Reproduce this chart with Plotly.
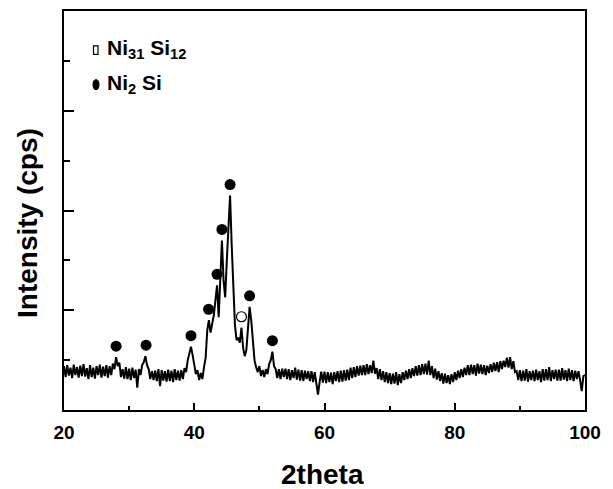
import numpy as np
import plotly.graph_objects as go

# XRD scan, 0.25 deg step from 20 to 100 deg (2theta), intensity in cps
intensity = [
    880, 660, 900, 690, 850, 640, 910, 700,      # 20
    860, 650, 890, 680, 920, 670, 840, 620,      # 22
    900, 660, 850, 630, 880, 700, 910, 650,      # 24
    870, 680, 900, 650, 880, 700, 930, 820,      # 26
    1060, 880, 950, 660, 820, 630, 860, 620,     # 28
    830, 600, 850, 640, 810, 450, 820, 700,      # 30
    900, 960, 1080, 900, 820, 620, 780, 600,     # 32
    790, 580, 820, 480, 800, 590, 780, 570,      # 34
    810, 580, 790, 560, 820, 600, 790, 590,      # 36
    800, 620, 840, 760, 1000, 1120, 1270, 1100,  # 38
    930, 720, 800, 600, 740, 620, 860, 1050,     # 40
    1600, 1800, 1550, 1700, 1900, 2200, 2500, 1860,  # 42
    2600, 3400, 2600, 2260, 3000, 3700, 4300, 3300,  # 44
    2400, 1700, 1400, 1450, 1350, 1650, 1250, 1080,  # 46
    1200, 1600, 2070, 1800, 1350, 1000, 860, 760,    # 48
    880, 680, 800, 660, 820, 720, 920, 1000,     # 50
    1170, 880, 820, 640, 820, 620, 830, 660,     # 52
    830, 620, 820, 600, 800, 640, 850, 610,      # 54
    810, 590, 800, 580, 790, 620, 780, 580,      # 56
    780, 560, 760, 540, 310, 560, 770, 550,      # 58
    770, 540, 760, 560, 750, 520, 760, 580,      # 60
    780, 560, 790, 570, 800, 590, 810, 600,      # 62
    850, 640, 860, 660, 880, 690, 890, 700,      # 64
    900, 700, 920, 720, 900, 740, 990, 730,      # 66
    840, 620, 820, 600, 780, 560, 760, 540,      # 68
    740, 520, 730, 530, 760, 500, 720, 540,      # 70
    760, 600, 790, 620, 820, 640, 840, 680,      # 72
    880, 690, 900, 700, 920, 720, 930, 710,      # 74
    990, 700, 880, 640, 830, 610, 780, 580,      # 76
    740, 530, 730, 540, 700, 520, 720, 560,      # 78
    760, 600, 790, 640, 820, 660, 850, 700,      # 80
    900, 700, 910, 720, 900, 690, 930, 730,      # 82
    910, 720, 900, 700, 890, 740, 920, 760,      # 84
    950, 780, 960, 760, 980, 820, 990, 860,      # 86
    1050, 850, 1060, 820, 980, 760, 780, 600,    # 88
    800, 580, 790, 590, 820, 570, 780, 600,      # 90
    790, 580, 810, 600, 780, 560, 820, 590,      # 92
    820, 600, 860, 580, 800, 620, 810, 590,      # 94
    810, 590, 840, 610, 800, 580, 830, 600,      # 96
    800, 580, 790, 620, 780, 600, 380, 680,      # 98
    700,                                         # 100
]
two_theta = np.linspace(20, 100, len(intensity))

# Indexed reflections (2theta, peak intensity)
ni2si_pos = [28.0, 32.6, 39.5, 42.2, 43.5, 44.25, 45.5, 48.5, 52.0]
ni2si_int = [1060, 1080, 1270, 1800, 2500, 3400, 4300, 2070, 1170]
ni31si12_pos = [47.25]
ni31si12_int = [1650]
marker_gap = 220  # symbol sits just above the peak top

x_ticks = [20, 40, 60, 80, 100]

font_family = "Liberation Sans, Arial, sans-serif"

fig = go.Figure()
fig.add_trace(go.Scatter(
    x=two_theta, y=intensity, mode="lines",
    line=dict(color="black", width=2.0), hoverinfo="skip", showlegend=False,
))
fig.add_trace(go.Scatter(
    x=ni2si_pos, y=[v + marker_gap for v in ni2si_int], mode="markers",
    marker=dict(symbol="circle", size=11, color="black"),
    showlegend=False, cliponaxis=False,
))
fig.add_trace(go.Scatter(
    x=ni31si12_pos, y=[v + marker_gap for v in ni31si12_int], mode="markers",
    marker=dict(symbol="circle-open", size=10, color="black", line=dict(width=1.2)),
    showlegend=False, cliponaxis=False,
))

W, H = 613, 489
ml, mr, mt, mb = 64, 28, 9, 79

def px(x):
    return (x - ml) / (W - ml - mr)

def py(y):
    return 1 - (y - mt) / (H - mt - mb)

# Phase key in the upper-left corner
fig.add_shape(type="rect", xref="paper", yref="paper",
              x0=px(93.5), x1=px(98), y0=py(52.5), y1=py(44),
              line=dict(color="black", width=1.2), fillcolor="white")
fig.add_shape(type="circle", xref="paper", yref="paper",
              x0=px(93), x1=px(99), y0=py(88), y1=py(78),
              line=dict(color="black", width=1), fillcolor="black")
fig.add_annotation(xref="paper", yref="paper", x=px(105), y=py(47),
                   text="<b>Ni<sub>31</sub> Si<sub>12</sub></b>", showarrow=False,
                   xanchor="left", yanchor="middle",
                   font=dict(family=font_family, size=21, color="black"))
fig.add_annotation(xref="paper", yref="paper", x=px(105), y=py(82),
                   text="<b>Ni<sub>2</sub> Si</b>", showarrow=False,
                   xanchor="left", yanchor="middle",
                   font=dict(family=font_family, size=21, color="black"))

# Axis titles
fig.add_annotation(xref="paper", yref="paper", x=px(322), y=py(475),
                   text="<b>2theta</b>", showarrow=False,
                   xanchor="center", yanchor="middle",
                   font=dict(family=font_family, size=28, color="black"))
fig.add_annotation(xref="paper", yref="paper", x=px(28), y=py(222),
                   text="<b>Intensity (cps)</b>", showarrow=False, textangle=-90,
                   xanchor="center", yanchor="middle",
                   font=dict(family=font_family, size=28, color="black"))

fig.update_layout(
    width=W, height=H,
    margin=dict(l=ml, r=mr, t=mt, b=mb),
    paper_bgcolor="white", plot_bgcolor="white",
    showlegend=False,
    xaxis=dict(
        range=[20, 100], tickvals=x_ticks, ticktext=[str(t) for t in x_ticks],
        ticks="inside", ticklen=7, tickwidth=2, tickcolor="black",
        minor=dict(dtick=10, ticks="inside", ticklen=4, tickwidth=2, tickcolor="black"),
        showline=True, linecolor="black", linewidth=2, mirror=True,
        showgrid=False, zeroline=False,
        tickfont=dict(family=font_family, size=19, color="black", weight="bold"),
        ticklabelstandoff=4,
    ),
    yaxis=dict(
        range=[0, 8000], dtick=2000, tick0=0,
        ticks="inside", ticklen=10, tickwidth=2, tickcolor="black",
        minor=dict(dtick=1000, ticks="inside", ticklen=6, tickwidth=2, tickcolor="black"),
        showticklabels=False,
        showline=True, linecolor="black", linewidth=2, mirror=True,
        showgrid=False, zeroline=False,
    ),
)

fig.write_html("out.html")
